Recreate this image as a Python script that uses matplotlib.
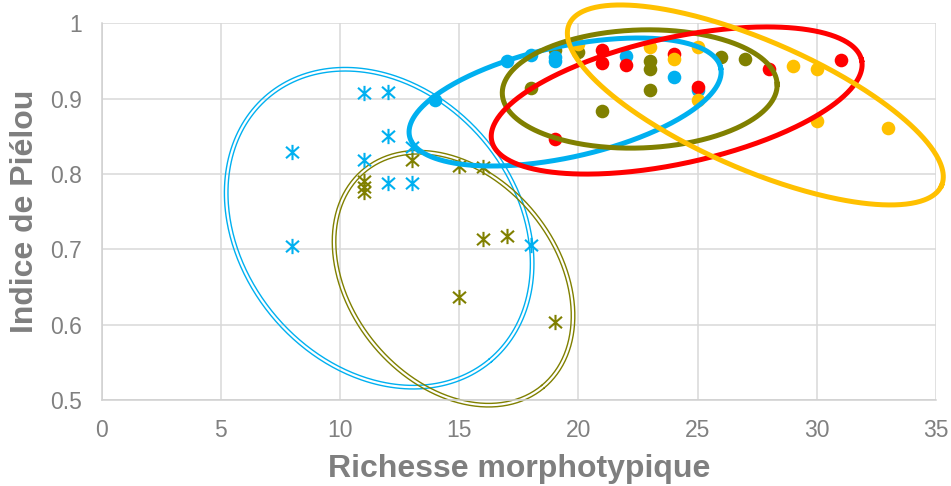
import matplotlib
matplotlib.use('Agg')
import matplotlib.pyplot as plt
import numpy as np
from matplotlib.path import Path

plt.rcParams['font.family'] = ['Liberation Sans', 'DejaVu Sans']

# --- data ---
cyan_star_x = [8, 8, 11, 12, 12, 13, 11, 12, 13, 18]
cyan_star_y = [0.829, 0.704, 0.907, 0.909, 0.851, 0.836, 0.819, 0.788, 0.788, 0.706]

olive_star_x = [11, 11, 11, 13, 15, 16, 16, 17, 15, 19]
olive_star_y = [0.790, 0.783, 0.776, 0.819, 0.810, 0.809, 0.714, 0.717, 0.637, 0.604]

cyan_dot_x = [14, 17, 18, 19, 19, 22, 24, 25]
cyan_dot_y = [0.898, 0.950, 0.958, 0.955, 0.950, 0.957, 0.929, 0.912]

olive_dot_x = [18, 19, 20, 21, 23, 23, 23, 26, 27]
olive_dot_y = [0.914, 0.965, 0.962, 0.884, 0.950, 0.939, 0.911, 0.955, 0.952]

red_dot_x = [19, 21, 21, 22, 24, 25, 28, 31]
red_dot_y = [0.847, 0.964, 0.947, 0.944, 0.959, 0.915, 0.939, 0.951]

yellow_dot_x = [20, 23, 24, 25, 25, 29, 30, 30, 33]
yellow_dot_y = [0.973, 0.968, 0.953, 0.968, 0.898, 0.943, 0.939, 0.870, 0.861]

xticks = [0, 5, 10, 15, 20, 25, 30, 35]
yticks = [0.5, 0.6, 0.7, 0.8, 0.9, 1.0]
ytick_labels = ['0.5', '0.6', '0.7', '0.8', '0.9', '1']

# hand drawn ellipses: centre (data), semi axes (px), angle (deg)
ell_centre = [(11.64, 0.728), (14.76, 0.661), (19.44, 0.8955),
              (22.57, 0.9128), (24.12, 0.8975), (27.42, 0.8916)]
ell_axes = [(172.7, 137.3), (140.2, 103.1), (159.3, 55.4),
            (137.5, 59.0), (189.3, 63.0), (202.9, 64.5)]
ell_angle = [-49.9, -50.5, 12.4, 2.0, 12.3, -23.4]

CYAN = '#00b0f0'
OLIVE = '#808000'
RED = '#ff0000'
YELLOW = '#ffc000'
ell_color = [CYAN, OLIVE, CYAN, OLIVE, RED, YELLOW]
ell_double = [True, True, False, False, False, False]

fig = plt.figure(figsize=(9.51, 4.86), dpi=100)
ax = fig.add_axes([0.10694, 0.1770, 0.8773, 0.7751])
ax.set_xlim(0, 35)
ax.set_ylim(0.5, 1.0)

# px per data unit, from the axes geometry
pos = ax.get_position()
sx = fig.get_figwidth() * fig.dpi * pos.width / 35
sy = fig.get_figheight() * fig.dpi * pos.height / 0.5

def ellipse(cx, cy, a, b, ang):
    t = np.linspace(0, 2 * np.pi, 400)
    th = np.radians(ang)
    dx = a * np.cos(t) * np.cos(th) - b * np.sin(t) * np.sin(th)
    dy = a * np.cos(t) * np.sin(th) + b * np.sin(t) * np.cos(th)
    return cx + dx / sx, cy + dy / sy

# asterisk marker like excel's
star = Path([(0, -1), (0, 1), (-0.85, -0.75), (0.85, 0.75), (-0.85, 0.75), (0.85, -0.75)],
            [Path.MOVETO, Path.LINETO, Path.MOVETO, Path.LINETO, Path.MOVETO, Path.LINETO])

# double ellipses under the markers
for i in range(6):
    if not ell_double[i]:
        continue
    a, b = ell_axes[i]
    for d in (-1.8, 1.8):
        ex, ey = ellipse(ell_centre[i][0], ell_centre[i][1], a + d, b + d, ell_angle[i])
        ax.plot(ex, ey, color=ell_color[i], lw=1.0, clip_on=False, zorder=2)

ax.plot(cyan_star_x, cyan_star_y, ls='none', marker=star, ms=11, mec=CYAN, mew=1.5, zorder=3)
ax.plot(olive_star_x, olive_star_y, ls='none', marker=star, ms=11, mec=OLIVE, mew=1.5, zorder=3)
ax.plot(olive_dot_x, olive_dot_y, ls='none', marker='o', ms=9.8, mfc=OLIVE, mew=0, zorder=3)
ax.plot(cyan_dot_x, cyan_dot_y, ls='none', marker='o', ms=9.8, mfc=CYAN, mew=0, zorder=3)
ax.plot(red_dot_x, red_dot_y, ls='none', marker='o', ms=9.8, mfc=RED, mew=0, zorder=3)
ax.plot(yellow_dot_x, yellow_dot_y, ls='none', marker='o', ms=9.8, mfc=YELLOW, mew=0, zorder=3)

# thick ellipses on top
for i in range(6):
    if ell_double[i]:
        continue
    a, b = ell_axes[i]
    ex, ey = ellipse(ell_centre[i][0], ell_centre[i][1], a, b, ell_angle[i])
    ax.plot(ex, ey, color=ell_color[i], lw=3.6, clip_on=False, zorder=4 + i)

ax.set_xticks(xticks)
ax.set_yticks(yticks)
ax.set_yticklabels(ytick_labels)
ax.grid(True, color='#d9d9d9', lw=1.1)
ax.set_axisbelow(True)
ax.tick_params(length=0, pad=14, labelsize=16.5, labelcolor='#808080')
for s in ['top', 'right']:
    ax.spines[s].set_visible(False)
for s in ['left', 'bottom']:
    ax.spines[s].set_color('#d0d0d0')
    ax.spines[s].set_linewidth(1.1)

ax.set_xlabel('Richesse morphotypique', fontsize=23, fontweight='bold', color='#7f7f7f')
ax.set_ylabel('Indice de Piélou', fontsize=23, fontweight='bold', color='#7f7f7f')
ax.xaxis.set_label_coords(0.5, -0.143)
ax.yaxis.set_label_coords(-0.074, 0.5)

plt.savefig('out.png', dpi=100)
